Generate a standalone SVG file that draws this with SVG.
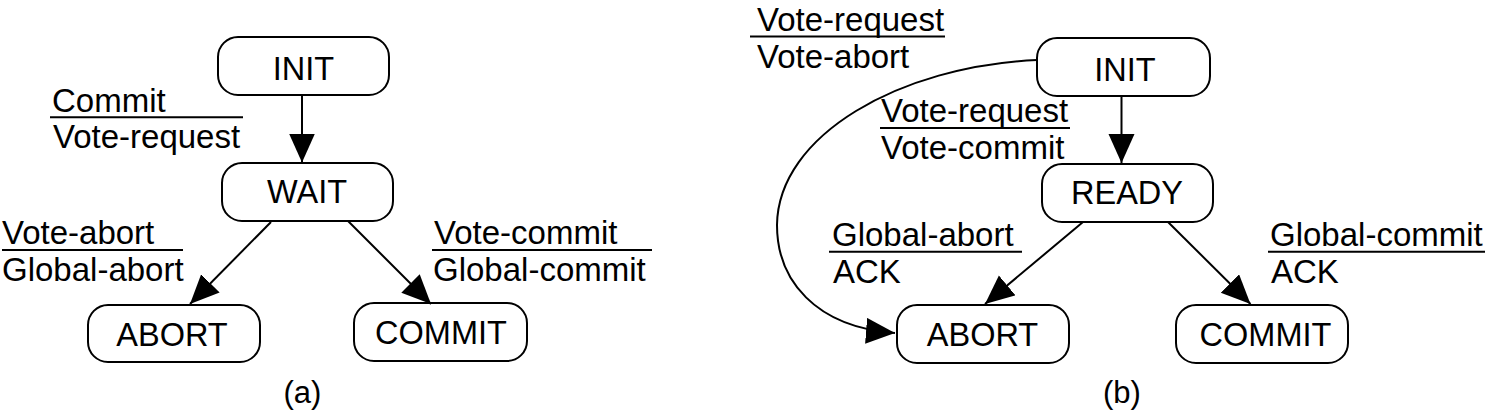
<svg xmlns="http://www.w3.org/2000/svg" width="1485" height="417" viewBox="0 0 1485 417">
  <style>
    .node rect { fill: #ffffff; stroke: #000000; stroke-width: 2; }
    .node text { font-family: "Liberation Sans", Arial, sans-serif; font-size: 32.5px; text-anchor: middle; fill: #000000; }
    .lbl { font-family: "Liberation Sans", Arial, sans-serif; font-size: 33px; fill: #000000; }
    .cap { font-family: "Liberation Sans", Arial, sans-serif; font-size: 31px; fill: #000000; text-anchor: middle; }
    .bar { stroke: #000000; stroke-width: 2; }
    .edge { fill: none; stroke: #000000; stroke-width: 2; marker-end: url(#arrow); }
  </style>
  <defs>
    <marker id="arrow" markerUnits="userSpaceOnUse" markerWidth="31" markerHeight="27" refX="29" refY="13" orient="auto">
      <path d="M0,0 L29,13 L0,26 Z" fill="#000000"/>
    </marker>
  </defs>
  <rect width="1485" height="417" fill="#ffffff"/>

  <!-- (a) nodes -->
  <g id="a-init" class="node"><rect x="218" y="37" width="171" height="58" rx="20"/><text x="303.5" y="80">INIT</text></g>
  <g id="a-wait" class="node"><rect x="222" y="163" width="171" height="58" rx="20"/><text x="307" y="203">WAIT</text></g>
  <g id="a-abort" class="node"><rect x="88" y="305" width="172" height="57" rx="20"/><text x="172" y="345.5">ABORT</text></g>
  <g id="a-commit" class="node"><rect x="354" y="303" width="173" height="58" rx="20"/><text x="441" y="343.5">COMMIT</text></g>

  <!-- (b) nodes -->
  <g id="b-init" class="node"><rect x="1037" y="38" width="173" height="58" rx="20"/><text x="1125" y="81">INIT</text></g>
  <g id="b-ready" class="node"><rect x="1042" y="164" width="171" height="58" rx="20"/><text x="1127" y="204">READY</text></g>
  <g id="b-abort" class="node"><rect x="897" y="305" width="172" height="58" rx="20"/><text x="982.5" y="346">ABORT</text></g>
  <g id="b-commit" class="node"><rect x="1176" y="305" width="172" height="58" rx="20"/><text x="1265.5" y="346">COMMIT</text></g>

  <!-- connectors -->
  <g id="connectors">
    <line class="edge" x1="302" y1="95" x2="302" y2="162.5"/>
    <line class="edge" x1="271" y1="222" x2="190" y2="304"/>
    <line class="edge" x1="348" y1="221" x2="431" y2="304"/>
    <line class="edge" x1="1121.5" y1="96" x2="1121.5" y2="163"/>
    <line class="edge" x1="1083" y1="222" x2="985" y2="304"/>
    <line class="edge" x1="1168" y1="222" x2="1250.5" y2="304"/>
    <path class="edge" d="M1037,60 C900,66 778,135 777,225 C777,280 815,327 895,333"/>
  </g>

  <!-- (a) labels -->
  <g id="a-labels">
    <text class="lbl" x="52" y="111.5">Commit</text>
    <line class="bar" x1="50" y1="117.3" x2="243" y2="117.3"/>
    <text class="lbl" x="53" y="148.3">Vote-request</text>

    <text class="lbl" x="2" y="244">Vote-abort</text>
    <line class="bar" x1="2" y1="250" x2="183" y2="250"/>
    <text class="lbl" x="2" y="280.7">Global-abort</text>

    <text class="lbl" x="434" y="244">Vote-commit</text>
    <line class="bar" x1="432" y1="250" x2="652" y2="250"/>
    <text class="lbl" x="433" y="280.7">Global-commit</text>
  </g>

  <!-- (b) labels -->
  <g id="b-labels">
    <text class="lbl" x="757" y="30.5">Vote-request</text>
    <line class="bar" x1="750" y1="36.5" x2="945" y2="36.5"/>
    <text class="lbl" x="757" y="67.5">Vote-abort</text>

    <text class="lbl" x="881" y="122">Vote-request</text>
    <line class="bar" x1="880" y1="128" x2="1070" y2="128"/>
    <text class="lbl" x="881" y="159">Vote-commit</text>

    <text class="lbl" x="832" y="245.7">Global-abort</text>
    <line class="bar" x1="829" y1="251.7" x2="1022" y2="251.7"/>
    <text class="lbl" x="833" y="282.7">ACK</text>

    <text class="lbl" x="1270" y="245.7">Global-commit</text>
    <line class="bar" x1="1268" y1="251.7" x2="1485" y2="251.7"/>
    <text class="lbl" x="1271" y="282.7">ACK</text>
  </g>

  <text class="cap" x="302.5" y="403">(a)</text>
  <text class="cap" x="1122" y="403">(b)</text>
</svg>
